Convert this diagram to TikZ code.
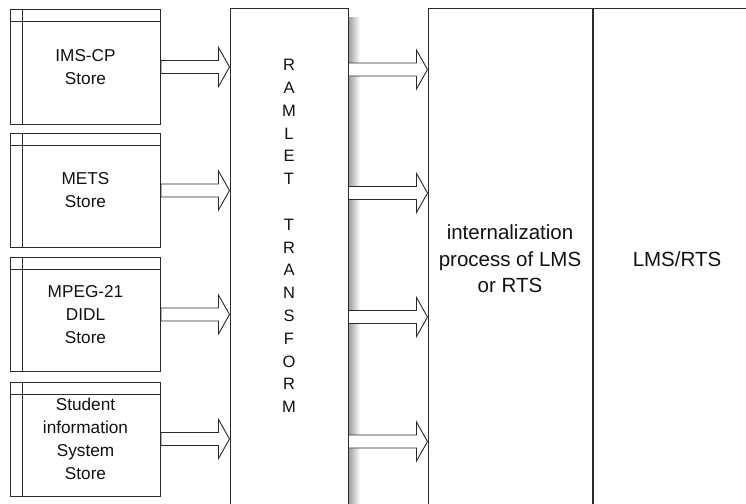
\documentclass[tikz,border=0pt]{standalone}
\usepackage{fontspec}
\setmainfont{Liberation Sans}
\usetikzlibrary{calc}
\newcommand{\storefont}{\fontsize{17.2}{23}\selectfont}
\newcommand{\procfont}{\fontsize{20.5}{26.5}\selectfont}
\newcommand{\ramfont}{\fontsize{16.5}{22.8}\selectfont}
\definecolor{linec}{HTML}{2A2A2A}
\definecolor{textc}{HTML}{111111}
\begin{document}
\begin{tikzpicture}[x=1pt, y=-1pt,
  every node/.style={text=textc},
  store/.style={draw=linec, line width=1pt, minimum width=150pt, minimum height=114pt,
    align=center, font=\storefont,
    path picture={
      \draw[linec, line width=1pt] ([xshift=12pt]path picture bounding box.north west) -- ([xshift=12pt]path picture bounding box.south west);
      \draw[linec, line width=1pt] ([yshift=-12pt]path picture bounding box.north west) -- ([yshift=-12pt]path picture bounding box.north east);}},
  tall/.style={draw=linec, line width=1pt, minimum height=500pt, align=center, font=\procfont, inner sep=0pt},
  fat/.style={draw=linec, line width=0.9pt, fill=white,
    to path={let \p1=(\tikztostart), \p2=(\tikztotarget) in
      (\x1,\y1+6.5pt) -- (\x2-11pt,\y1+6.5pt) -- (\x2-11pt,\y1+19.5pt) -- (\x2,\y1)
      -- (\x2-11pt,\y1-19.5pt) -- (\x2-11pt,\y1-6.5pt) -- (\x1,\y1-6.5pt) -- cycle}}]
  \useasboundingbox (0,0) rectangle (746,503);
  \clip (0,0) rectangle (746,503);
  % stores
  \node[store] (ims) at (85.5,67) {IMS-CP\\Store};
  \node[store] (mets) at (85.5,190.5) {METS\\Store};
  \node[store] (mpeg) at (85.5,314.5) {MPEG-21\\DIDL\\Store};
  \node[store] (sis) at (85.5,439) {Student\\information\\System\\Store};
  % transform column, with its shadow
  \shade[left color=black!40, right color=white] (348,18) rectangle (360,509);
  \node[tall, minimum width=118pt] (ramlet) at (289,259) {};
  \node[font=\ramfont, align=center, inner sep=0pt] (ramtext) at (289,236)
    {R\\A\\M\\L\\E\\T\\[22.8pt]T\\R\\A\\N\\S\\F\\O\\R\\M};
  % target side
  \node[tall, minimum width=164pt] (proc) at (510,259) {internalization\\process of LMS\\or RTS};
  \node[tall, minimum width=168pt, anchor=west] (lms) at (proc.east) {LMS/RTS};
  % arrows
  \foreach \s in {ims,mets,mpeg,sis} {
    \draw[fat] (\s.east) to (\s.east -| ramlet.west);
    \draw[fat] ([yshift=-2.5pt]\s.east -| ramlet.east) to ([yshift=-2.5pt]\s.east -| proc.west);
  }
\end{tikzpicture}
\end{document}
